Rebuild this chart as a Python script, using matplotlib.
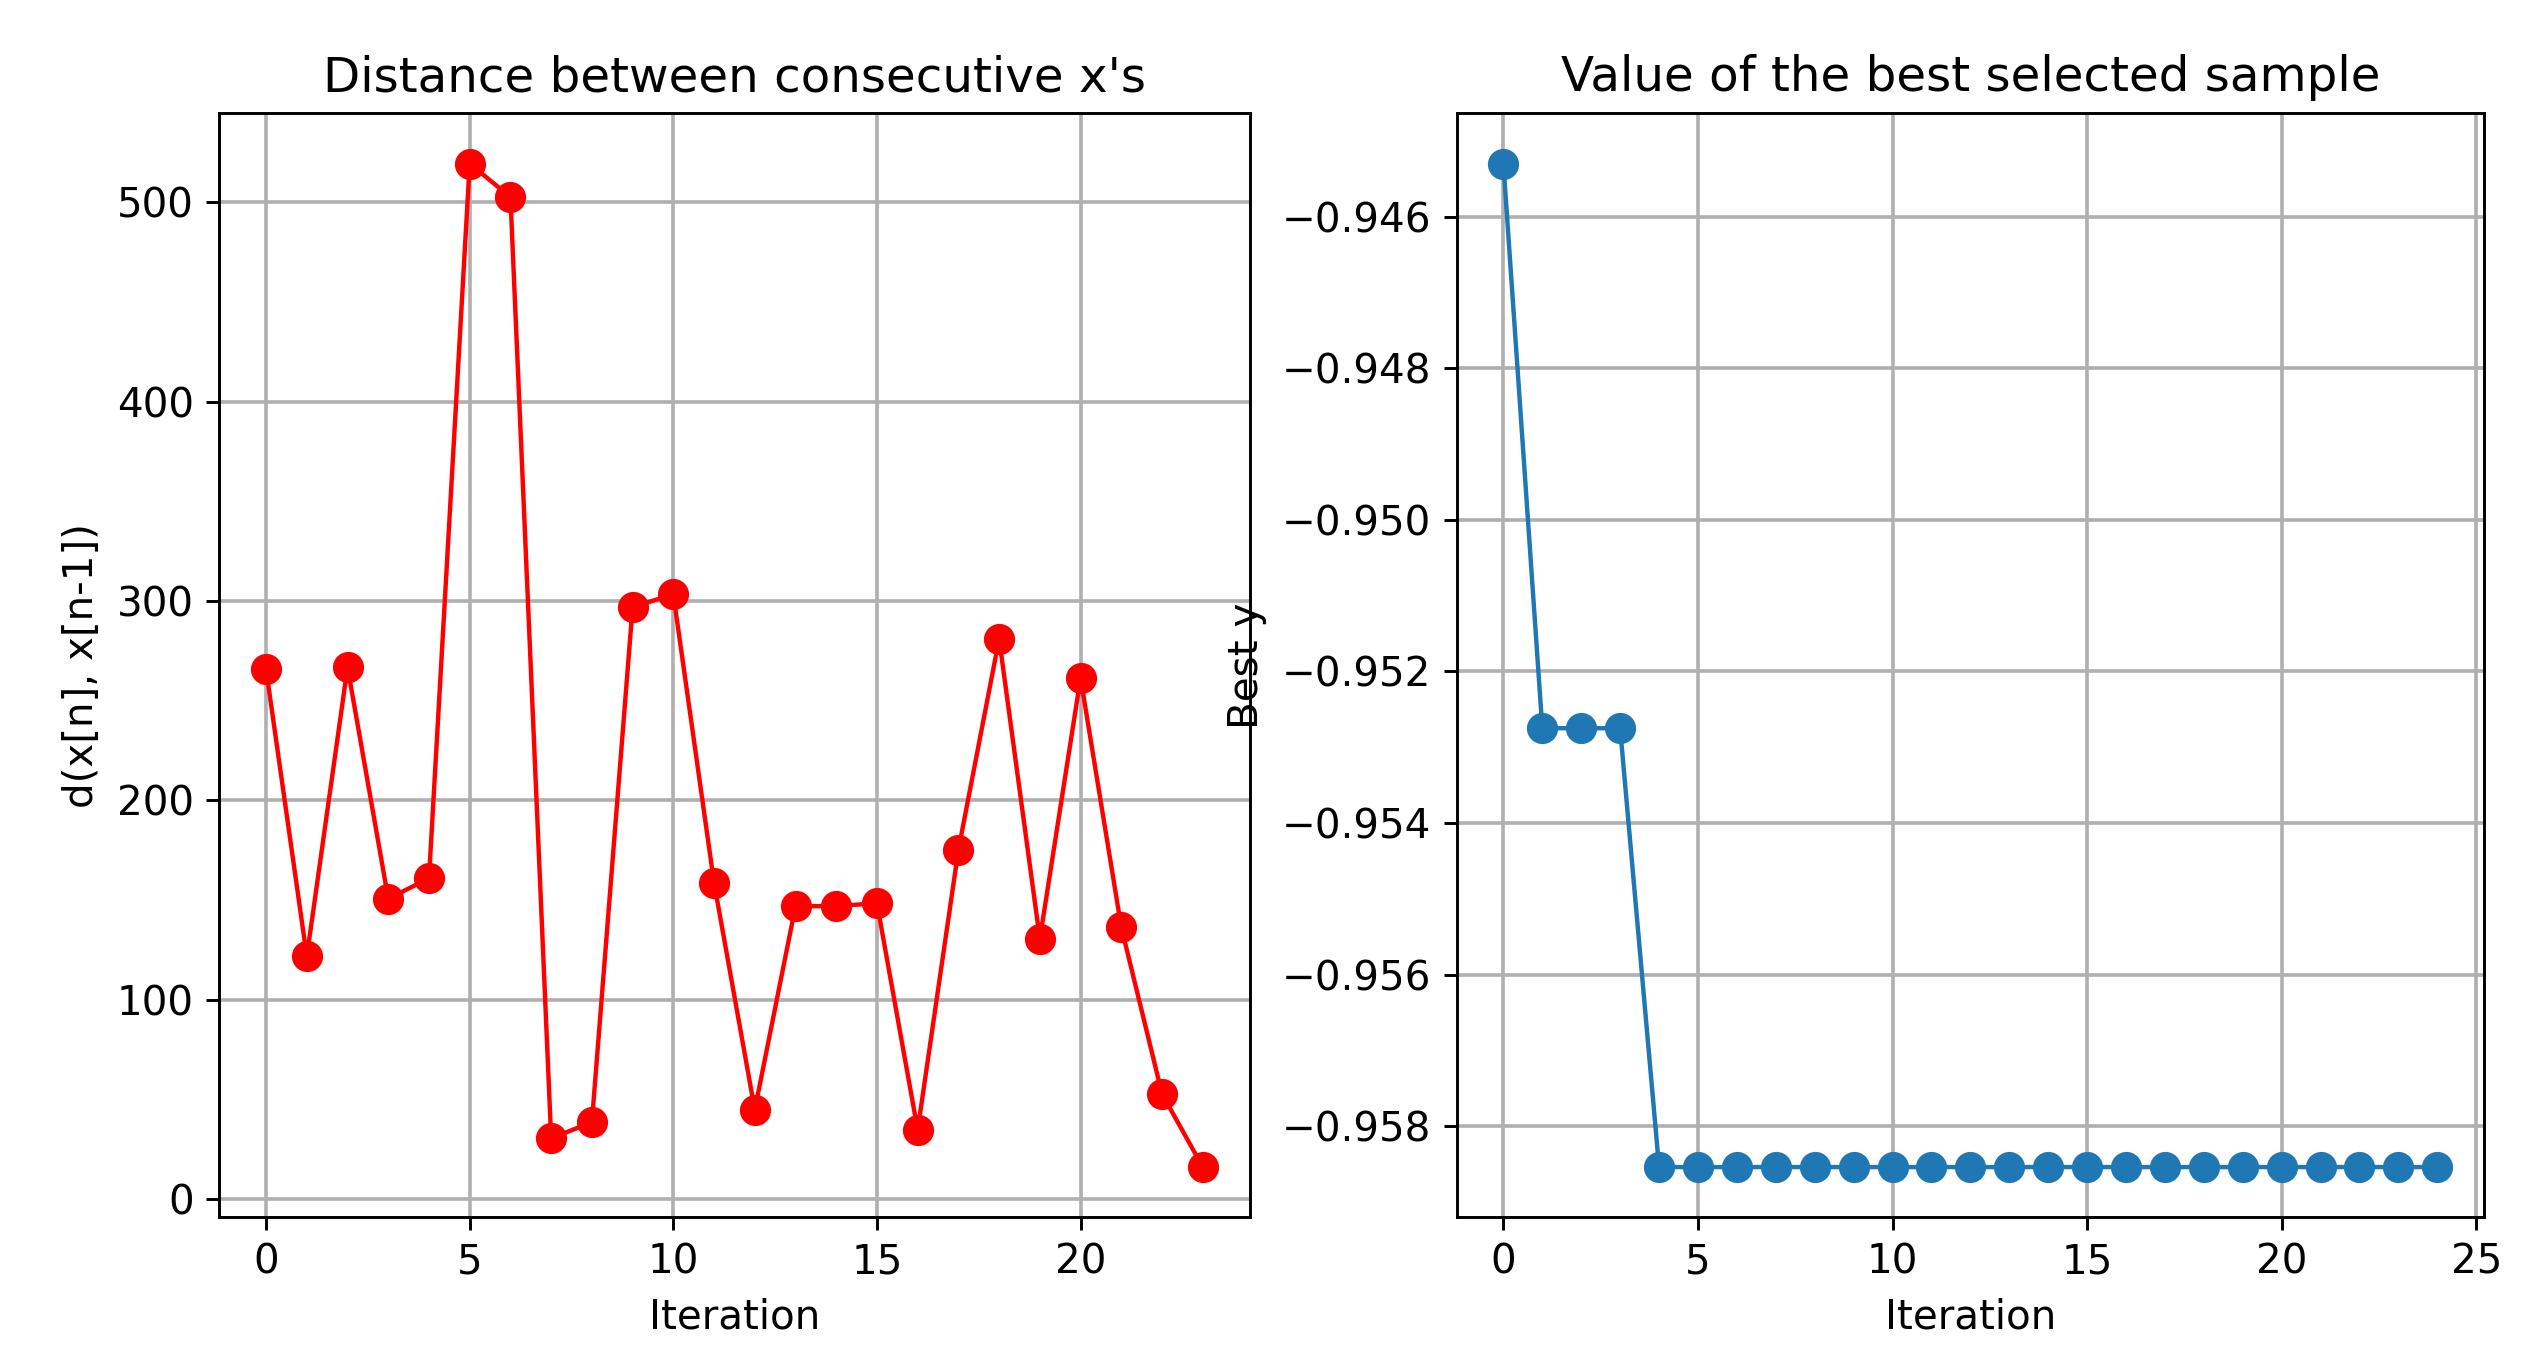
import matplotlib
matplotlib.use("Agg")
import matplotlib.pyplot as plt

# Data
iter_dist = list(range(24))
dist_values = [265.7, 121.8, 266.8, 150.7, 161.0, 519.3, 502.5, 30.6, 38.7, 297.0,
               303.3, 158.7, 44.9, 147.0, 147.0, 148.5, 34.8, 175.2, 281.0, 130.6,
               261.4, 136.4, 52.9, 16.2]

iter_best = list(range(25))
best_values = [-0.94530] + [-0.95275] * 3 + [-0.95854] * 21

plt.rcParams['font.size'] = 11
plt.rcParams['grid.linewidth'] = 1.0

DPI = 264
fig = plt.figure(figsize=(2529 / DPI, 1368 / DPI), dpi=DPI)
ax1 = fig.add_axes([0.0867, 0.1102, 0.4941 - 0.0867, 0.9171 - 0.1102])
ax2 = fig.add_axes([0.5760, 0.1102, 0.9822 - 0.5760, 0.9171 - 0.1102])

ax1.plot(iter_dist, dist_values, 'ro-', markersize=7.5, linewidth=1.2)
ax1.set_title("Distance between consecutive x's")
ax1.set_xlabel("Iteration")
ax1.set_ylabel("d(x[n], x[n-1])")
ax1.grid(True)

ax2.plot(iter_best, best_values, 'o-', color='C0', markersize=7.5, linewidth=1.2)
ax2.set_title("Value of the best selected sample")
ax2.set_xlabel("Iteration")
ax2.set_ylabel("Best y")
ax2.grid(True)

fig.savefig("out.png", dpi=DPI)
